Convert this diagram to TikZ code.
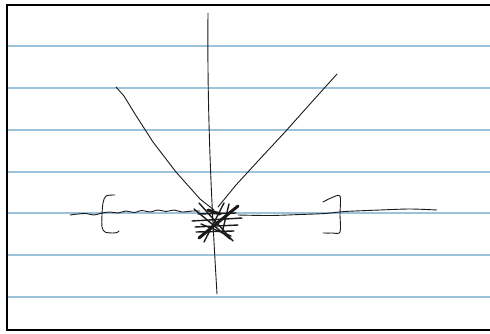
\documentclass[tikz,border=0pt]{standalone}
\usetikzlibrary{calc}
\definecolor{RuleBlue}{HTML}{9CC3DA}
\definecolor{PenInk}{HTML}{1A1A1A}

\begin{document}
\begin{tikzpicture}[x=1pt,y=-1pt,
  ruling/.style={draw=RuleBlue, line width=1.1pt},
  frame/.style={draw=black, line width=2.2pt},
  ink/.style={draw=PenInk, line width=0.9pt, line cap=round, line join=round},
  heavy/.style={draw=PenInk, line width=3pt, line cap=round},
  scrib/.style={draw=PenInk, line width=1.4pt, line cap=round}]
  \useasboundingbox (0,0) rectangle (490,333);
  \fill[white] (0,0) rectangle (490,333);
  % ruled lines
  \foreach \yy in {46,88,130,172,213,255,297}
    \draw[ruling] (8,\yy) -- (490,\yy);
  % page frame
  \draw[frame] (490,5) -- (7,5) -- (7,330) -- (490,330);
  % vertical stroke
  \coordinate (vtop) at (208,13);
  \coordinate (vbot) at (217,294);
  \draw[ink] (vtop) .. controls (207,120) and (212,210) .. (vbot);
  % slanted strokes
  \coordinate (ltop) at (116,87);
  \coordinate (rtop) at (337,74);
  \coordinate (hub) at (214,210);
  \draw[ink] (ltop) -- (124,96) -- (135,114) -- (153,142) -- (176,172) -- (200,199) -- (hub);
  \draw[ink] (rtop) -- (310,104) -- (285,132) -- (258,161) -- (236,185) -- (218,207);
  % wavy baseline, left
  \draw[ink] plot[smooth] coordinates {(70,215) (78,214) (86,213.5) (94,215) (102,213) (110,212) (118,213) (126,211) (134,212.5) (142,210.5) (150,212) (158,210) (166,211.5) (174,210) (182,212) (192,211) (200,211)};
  % baseline, right
  \draw[ink] plot[smooth] coordinates {(238,215) (270,215.5) (300,214.5) (325,213.5) (345,211.5) (380,210) (410,209) (437,210)};
  % left bracket
  \draw[ink] plot[smooth] coordinates {(115,195) (106,196) (103,203) (102,215) (102,227) (105,232) (112,233) (117,232.5) (119,231)};
  % right bracket
  \draw[ink] plot[smooth] coordinates {(323,202) (331,198) (340,196) (340,214) (340,232) (332,233) (323,233)};
  % scribbled knot
  \draw[heavy] (199,238) -- (238,206);
  \draw[scrib] (194,209) -- (230,239);
  \draw[scrib] (195,227) -- (238,225);
  \draw[scrib] (192,221) -- (242,218);
  \draw[scrib] (196,232) -- (234,231);
  \draw[scrib] (198,214) -- (236,213);
  \draw[scrib] (204,242) -- (224,203);
  \draw[scrib] (199,203) -- (233,241);
  \draw[heavy] (208,210) -- (220,214);
  \draw[scrib] (222,233) -- (229,204);
  \draw[scrib] (201,224) -- (231,236);
\end{tikzpicture}
\end{document}
